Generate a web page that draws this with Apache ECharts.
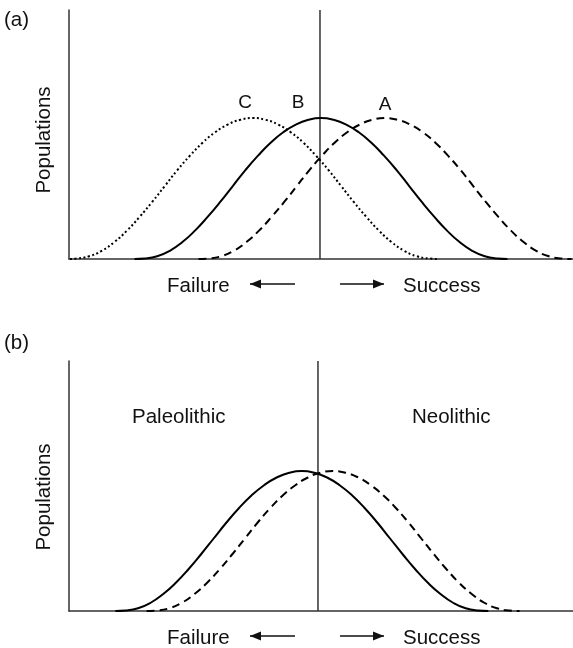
<!DOCTYPE html>
<html>
<head>
<meta charset="utf-8">
<script src="https://cdn.jsdelivr.net/npm/echarts@6/dist/echarts.min.js"></script>
<style>
  html, body { margin: 0; padding: 0; background: #fff; }
  #chart { width: 573px; height: 648px; }
</style>
</head>
<body>
<div id="chart"></div>
<script>
// panel (a): curves C (dotted), B (solid), A (dashed)
var curveCx = [0.02, 0.15, 0.40, 0.65, 0.90, 1.15, 1.40, 1.65, 1.90, 2.15, 2.40, 2.65, 2.90, 3.15, 3.40, 3.65, 3.90, 4.15, 4.40, 4.65, 4.90, 5.15, 5.40, 5.65, 5.90, 6.15, 6.40, 6.65, 6.90, 7.15, 7.35];
var curveCy = [0, 0.02, 0.11, 0.33, 0.68, 1.14, 1.69, 2.29, 2.93, 3.57, 4.15, 4.67, 5.09, 5.40, 5.59, 5.66, 5.59, 5.40, 5.09, 4.67, 4.15, 3.57, 2.93, 2.29, 1.69, 1.14, 0.68, 0.33, 0.11, 0.02, 0];
var curveBx = [1.30, 1.50, 1.75, 2.00, 2.25, 2.50, 2.75, 3.00, 3.25, 3.50, 3.75, 4.00, 4.25, 4.50, 4.75, 5.00, 5.25, 5.50, 5.75, 6.00, 6.25, 6.50, 6.75, 7.00, 7.25, 7.50, 7.75, 8.00, 8.25, 8.50, 8.70];
var curveBy = [0, 0.02, 0.11, 0.33, 0.68, 1.14, 1.69, 2.29, 2.93, 3.57, 4.15, 4.67, 5.09, 5.40, 5.59, 5.66, 5.59, 5.40, 5.09, 4.67, 4.15, 3.57, 2.93, 2.29, 1.69, 1.14, 0.68, 0.33, 0.11, 0.02, 0];
var curveAx = [2.57, 2.77, 3.02, 3.27, 3.52, 3.77, 4.02, 4.27, 4.52, 4.77, 5.02, 5.27, 5.52, 5.77, 6.02, 6.27, 6.52, 6.77, 7.02, 7.27, 7.52, 7.77, 8.02, 8.27, 8.52, 8.77, 9.02, 9.27, 9.52, 9.77, 9.97];
var curveAy = [0, 0.02, 0.11, 0.33, 0.68, 1.14, 1.69, 2.29, 2.93, 3.57, 4.15, 4.67, 5.09, 5.40, 5.59, 5.66, 5.59, 5.40, 5.09, 4.67, 4.15, 3.57, 2.93, 2.29, 1.69, 1.14, 0.68, 0.33, 0.11, 0.02, 0];

// panel (b): Paleolithic (solid), Neolithic (dashed)
var paleoX = [0.92, 1.12, 1.37, 1.62, 1.87, 2.12, 2.37, 2.62, 2.87, 3.12, 3.37, 3.62, 3.87, 4.12, 4.37, 4.62, 4.87, 5.12, 5.37, 5.62, 5.87, 6.12, 6.37, 6.62, 6.87, 7.12, 7.37, 7.62, 7.87, 8.12, 8.32];
var paleoY = [0, 0.02, 0.11, 0.33, 0.68, 1.13, 1.67, 2.27, 2.90, 3.53, 4.11, 4.62, 5.03, 5.34, 5.53, 5.60, 5.53, 5.34, 5.03, 4.62, 4.11, 3.53, 2.90, 2.27, 1.67, 1.13, 0.68, 0.33, 0.11, 0.02, 0];
var neoX = [1.54, 1.74, 1.99, 2.24, 2.49, 2.74, 2.99, 3.24, 3.49, 3.74, 3.99, 4.24, 4.49, 4.74, 4.99, 5.24, 5.49, 5.74, 5.99, 6.24, 6.49, 6.74, 6.99, 7.24, 7.49, 7.74, 7.99, 8.24, 8.49, 8.74, 8.94];
var neoY = [0, 0.02, 0.11, 0.33, 0.68, 1.13, 1.67, 2.27, 2.90, 3.53, 4.11, 4.62, 5.03, 5.34, 5.53, 5.60, 5.53, 5.34, 5.03, 4.62, 4.11, 3.53, 2.90, 2.27, 1.67, 1.13, 0.68, 0.33, 0.11, 0.02, 0];

// threshold lines
var dividerA = 4.98;
var dividerB = 4.94;

var FONT = '"Liberation Sans", Arial, Helvetica, sans-serif';

function pairs(xs, ys) {
  return xs.map(function (x, i) { return [x, ys[i]]; });
}

function axisX(idx) {
  return {
    type: 'value', gridIndex: idx, min: 0, max: 10,
    axisLine: { show: true, onZero: false, lineStyle: { color: '#333', width: 1.5 } },
    axisTick: { show: false }, axisLabel: { show: false }, splitLine: { show: false }
  };
}
function axisY(idx) {
  return {
    type: 'value', gridIndex: idx, min: 0, max: 10,
    axisLine: { show: true, lineStyle: { color: '#333', width: 1.5 } },
    axisTick: { show: false }, axisLabel: { show: false }, splitLine: { show: false }
  };
}

function curve(idx, data, type) {
  return {
    type: 'line', xAxisIndex: idx, yAxisIndex: idx,
    data: data, symbol: 'none', smooth: 0.5,
    lineStyle: { color: '#000', width: 2, type: type }
  };
}

function divider(idx, x) {
  return {
    type: 'line', xAxisIndex: idx, yAxisIndex: idx,
    data: [[x, 0], [x, 10]], symbol: 'none',
    lineStyle: { color: '#333', width: 1.5 }
  };
}

function text(str, x, y, opts) {
  opts = opts || {};
  return {
    type: 'text', x: x, y: y, rotation: opts.rotation || 0,
    style: {
      text: str, fill: '#111', font: (opts.size || 20.5) + 'px ' + FONT,
      align: opts.align || 'left', verticalAlign: 'middle'
    }
  };
}

// arrow: dir -1 points left, 1 points right
function arrow(x1, x2, y, dir) {
  var head = dir < 0 ? x1 : x2;
  var pts = dir < 0
    ? [[head, y], [head + 11, y - 4.5], [head + 11, y + 4.5]]
    : [[head, y], [head - 11, y - 4.5], [head - 11, y + 4.5]];
  return [
    { type: 'line', shape: { x1: x1, y1: y, x2: x2, y2: y }, style: { stroke: '#111', lineWidth: 1.5 } },
    { type: 'polygon', shape: { points: pts }, style: { fill: '#111' } }
  ];
}

var graphics = [
  text('(a)', 4, 20),
  text('Populations', 44, 140, { rotation: Math.PI / 2, align: 'center' }),
  text('C', 245, 103, { align: 'center', size: 19 }),
  text('B', 298, 103, { align: 'center', size: 19 }),
  text('A', 385, 105, { align: 'center', size: 19 }),
  text('Failure', 167, 286),
  text('Success', 403, 286),
  text('(b)', 4, 343),
  text('Populations', 44, 497, { rotation: Math.PI / 2, align: 'center' }),
  text('Paleolithic', 132, 417),
  text('Neolithic', 412, 417),
  text('Failure', 167, 638),
  text('Success', 403, 638)
].concat(arrow(250, 295, 284, -1), arrow(340, 384, 284, 1),
         arrow(250, 295, 636, -1), arrow(340, 384, 636, 1));

var chart = echarts.init(document.getElementById('chart'));
chart.setOption({
  animation: false,
  backgroundColor: '#fff',
  grid: [
    { left: 69, top: 10, width: 504, height: 249 },
    { left: 69, top: 361, width: 504, height: 250 }
  ],
  xAxis: [axisX(0), axisX(1)],
  yAxis: [axisY(0), axisY(1)],
  graphic: graphics,
  series: [
    divider(0, dividerA),
    curve(0, pairs(curveCx, curveCy), [2, 2.5]),
    curve(0, pairs(curveBx, curveBy), 'solid'),
    curve(0, pairs(curveAx, curveAy), [8, 5]),
    divider(1, dividerB),
    curve(1, pairs(paleoX, paleoY), 'solid'),
    curve(1, pairs(neoX, neoY), [8, 5])
  ]
});
</script>
</body>
</html>
